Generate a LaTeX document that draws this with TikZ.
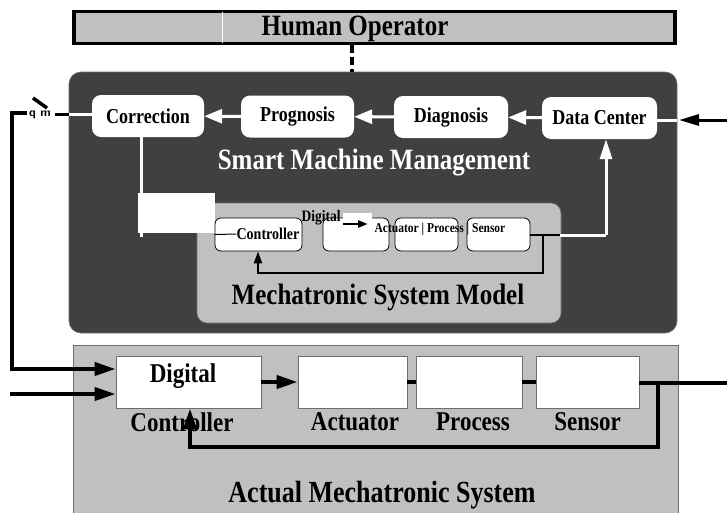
\documentclass[tikz,border=0pt]{standalone}
\usepackage{fontspec}
\usepackage{graphicx}
\setmainfont{Liberation Serif}
\usetikzlibrary{arrows.meta}
\definecolor{darkbg}{RGB}{64,64,64}
\definecolor{lightbg}{RGB}{192,192,192}
\definecolor{edgegray}{RGB}{110,110,110}
\newcommand{\tallt}[1]{\scalebox{1}[1.18]{#1}}
\begin{document}
\begin{tikzpicture}[x=1pt,y=-1pt,
  wnode/.style={fill=white, rounded corners=9, minimum height=42, inner sep=0, font=\fontsize{18}{18}\selectfont\bfseries},
  mnode/.style={fill=white, draw=black, line width=0.8, rounded corners=6, minimum height=33, inner sep=0},
  bnode/.style={fill=white, draw=edgegray, line width=0.8, minimum height=52, inner sep=0},
  blabel/.style={inner sep=0, font=\fontsize{23}{23}\selectfont\bfseries},
  wline/.style={white, line width=3},
  warrow/.style={white, line width=3, -{Triangle[length=18,width=14]}},
  barrow/.style={black, line width=4, -{Triangle[length=21,width=13]}},
  bline/.style={black, line width=4},
  mline/.style={black, line width=2.2}]
\useasboundingbox (0,0) rectangle (727,512);
% human operator
\node[fill=lightbg, draw=black, line width=3.5, minimum width=601, minimum height=32, inner sep=0] (human) at (374.5,27.5) {};
\coordinate (hl1) at (222,12);
\coordinate (hl2) at (222,43);
\draw[white, line width=0.8] (hl1) -- (hl2);
\node[inner sep=0, font=\fontsize{25}{25}\selectfont\bfseries] (humant) at (355,29) {\tallt{Human Operator}};
% smart machine management
\node[fill=darkbg, draw=edgegray, line width=0.6, rounded corners=12, minimum width=608, minimum height=261, inner sep=0] (smm) at (373,202.5) {};
\coordinate (dash) at (352,0);
\draw[line width=3.5, dash pattern=on 8 off 4] (human.south -| dash) -- (smm.north -| dash);
\node[wnode, minimum width=112] (corr) at (148,116) {\tallt{Correction}};
\node[wnode, minimum width=113] (prog) at (297.5,116.5) {\tallt{Prognosis}};
\node[wnode, minimum width=114] (diag) at (451,117) {\tallt{Diagnosis}};
\node[wnode, minimum width=115] (dc) at (599.5,118) {\tallt{Data Center}};
\draw[warrow] (prog) -- (corr);
\draw[warrow] (diag) -- (prog);
\draw[warrow] (dc) -- (diag);
\node[inner sep=0, text=white, font=\fontsize{25}{25}\selectfont\bfseries] (smmt) at (374,163) {\tallt{Smart Machine Management}};
% mechatronic system model
\node[fill=lightbg, draw=edgegray, line width=0.8, rounded corners=10, minimum width=364, minimum height=120, inner sep=0] (msm) at (379,263) {};
\node[fill=white, minimum width=77, minimum height=40, inner sep=0] (wrect) at (176.5,213) {};
\coordinate (cdown) at (141,237);
\draw[wline] (corr.south -| cdown) -- (cdown);
\node[mnode, minimum width=87] (mctrl) at (258.5,234.5) {};
\node[mnode, minimum width=66] (mb2) at (356,234.5) {};
\node[mnode, minimum width=63] (mb3) at (426.5,234.5) {};
\node[mnode, minimum width=63] (mb4) at (498.5,234.5) {};
\node[inner sep=0, font=\fontsize{14}{14}\selectfont\bfseries] (mctrlt) at (268,234) {\tallt{Controller}};
\draw[black, line width=1] (mctrl.west) -- (mctrlt.west);
\node[fill=white, minimum width=29, minimum height=11, inner sep=0] (dpatch) at (357.5,218.5) {};
\node[inner sep=0, font=\fontsize{13.5}{13.5}\selectfont\bfseries] (mdig) at (321,218) {\tallt{Digital}};
\coordinate (mda1) at (343,224);
\coordinate (mda2) at (368,224);
\draw[black, line width=2.5, -{Triangle[length=10,width=7]}] (mda1) -- (mda2);
\node[inner sep=0, font=\fontsize{11.5}{11.5}\selectfont\bfseries] (mapst) at (440,229) {\tallt{Actuator | Process | Sensor}};
\coordinate (mo1) at (560,235);
\coordinate (mo2) at (606,235);
\coordinate (mfb1) at (543,235);
\coordinate (mfb2) at (543,273);
\coordinate (mfb3) at (258,273);
\draw[mline] (mb4.east |- mo1) -- (mo1);
\draw[wline] (mo1) -- (mo2);
\draw[white, line width=3, -{Triangle[length=20,width=12]}] (mo2) -- (dc.south -| mo2);
\draw[mline, -{Triangle[length=12,width=8]}] (mfb1) -- (mfb2) -- (mfb3) -- (mctrl.south -| mfb3);
\node[inner sep=0, font=\fontsize{25}{25}\selectfont\bfseries] (msmt) at (378,297) {\tallt{Mechatronic System Model}};
% data center input
\coordinate (in1) at (727,120);
\coordinate (in2) at (679,120);
\coordinate (in3) at (677,120);
\draw[wline] (dc.east |- in3) -- (in3);
\draw[black, line width=3, -{Triangle[length=20,width=11]}] (in1) -- (in2);
% correction output switch
\coordinate (sw1) at (69,114);
\coordinate (sw2) at (55,114);
\coordinate (sl1) at (33,98);
\coordinate (sl2) at (47,108);
\draw[wline] (corr.west |- sw1) -- (sw1);
\draw[black, line width=3] (sw1) -- (sw2);
\draw[black, line width=3.5] (sl1) -- (sl2);
\node[inner sep=0, font=\fontsize{12}{12}\selectfont\sffamily\bfseries] (qm) at (40,115) {q m};
% actual system
\node[fill=lightbg, draw=edgegray, line width=0.8, minimum width=605, minimum height=180, inner sep=0] (ams) at (375.5,435) {};
\node[bnode, minimum width=145] (dctrl) at (188.5,382) {};
\node[bnode, minimum width=109] (act) at (352.5,382) {};
\node[bnode, minimum width=106] (proc) at (469,382) {};
\node[bnode, minimum width=103] (sens) at (587.5,382) {};
\node[blabel] (dctrlt) at (183,376) {\tallt{Digital}};
\node[blabel] (ctrll) at (182,422) {\tallt{Controller}};
\node[blabel] (actl) at (355,422) {\tallt{Actuator}};
\node[blabel] (procl) at (473,422) {\tallt{Process}};
\node[blabel] (sensl) at (587.5,422) {\tallt{Sensor}};
\node[inner sep=0, font=\fontsize{26}{26}\selectfont\bfseries] (amst) at (382,495) {\tallt{Actual Mechatronic System}};
\draw[barrow] (dctrl) -- (act);
\draw[bline] (act) -- (proc);
\draw[bline] (proc) -- (sens);
\coordinate (out) at (727,383);
\coordinate (fb1) at (658,383);
\coordinate (fb2) at (658,447);
\coordinate (fb3) at (190,447);
\draw[bline] (sens.east |- out) -- (out);
\draw[barrow] (fb1) -- (fb2) -- (fb3) -- (dctrl.south -| fb3);
% inputs
\coordinate (q1) at (27,113);
\coordinate (q2) at (12,113);
\coordinate (q3) at (12,369);
\coordinate (i2) at (10,394);
\draw[barrow] (q1) -- (q2) -- (q3) -- (dctrl.west |- q3);
\draw[barrow] (i2) -- (dctrl.west |- i2);
\end{tikzpicture}
\end{document}
